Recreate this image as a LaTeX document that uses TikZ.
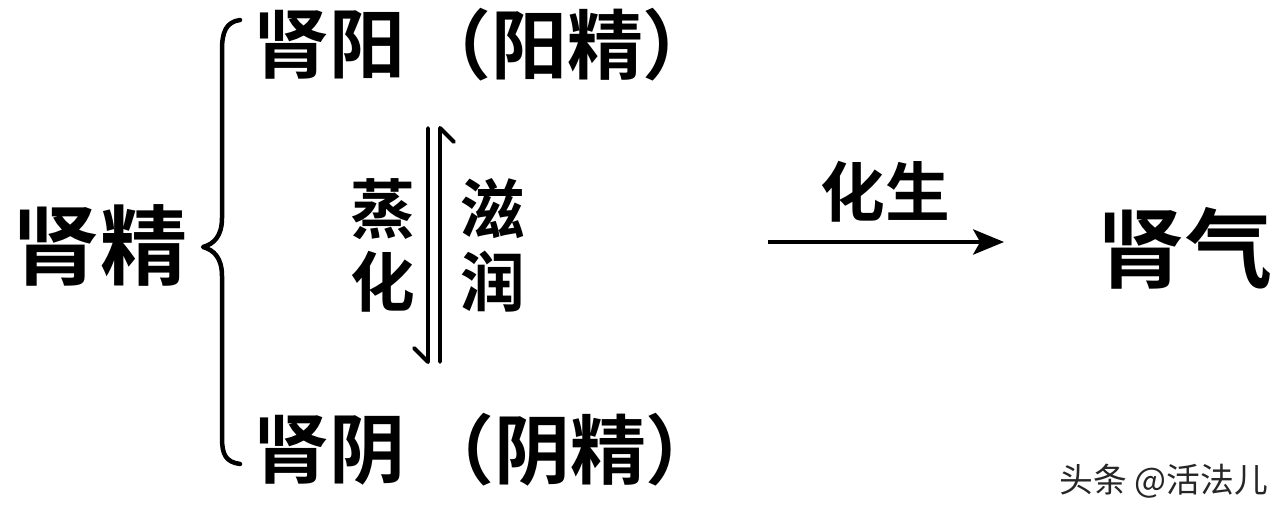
\documentclass[tikz,border=0pt]{standalone}
\usepackage{fontspec}
\newfontfamily\cjk{Noto Sans CJK SC}[BoldFont={Noto Sans CJK SC Bold}]
\usetikzlibrary{arrows.meta}
\begin{document}
\begin{tikzpicture}[x=0.025cm,y=-0.025cm,
  big/.style={font=\cjk\bfseries\fontsize{62}{62}\selectfont,inner sep=0pt},
  mid/.style={font=\cjk\bfseries\fontsize{54}{54}\selectfont,inner sep=0pt},
  small/.style={font=\cjk\bfseries\fontsize{46}{52}\selectfont,inner sep=0pt,align=center},
  wmark/.style={font=\cjk\fontsize{24}{24}\selectfont,inner sep=0pt,text=black!85},
  stroke/.style={line width=2.8pt,line cap=round,line join=round}]
\useasboundingbox (0,0) rectangle (1280,510);
\fill[white] (0,0) rectangle (1280,510);
\node[big] (jing) at (100,245) {肾精};
\node[mid,anchor=west] (yang) at (253,45) {肾阳};
\node[mid] (yangp) at (567,45) {（阳精）};
\node[mid,anchor=west] (yin) at (253,450) {肾阴};
\node[mid] (yinp) at (570,450) {（阴精）};
\node[small] (zh) at (383,245) {蒸\\化};
\node[small] (zr) at (493,245) {滋\\润};
\node[small] (hs) at (885,192) {化生};
\node[big] (qi) at (1185,248) {肾气};
\node[wmark] (wm) at (1164,481) {头条 @活法儿};
% brace
\draw[stroke,line width=3.2pt] (240,20) .. controls (226,22) and (222,32) .. (222,50)
  -- (222,218) .. controls (222,236) and (214,244) .. (203,247)
  .. controls (214,250) and (222,258) .. (222,276)
  -- (222,438) .. controls (222,455) and (226,462) .. (240,464);
% harpoons
\coordinate (lt) at (428,128); \coordinate (lb) at (428,362);
\coordinate (rb) at (440,362); \coordinate (rt) at (440,128);
\draw[stroke] (lt) -- (lb) -- ++(-14,-14);
\draw[stroke] (rb) -- (rt) -- ++(14,14);
% arrow
\coordinate (a1) at (768,242); \coordinate (a2) at (1004,242);
\draw[line width=2.2pt,-{Stealth[length=22pt,width=18pt,inset=5pt]}] (a1) -- (a2);
\end{tikzpicture}
\end{document}
